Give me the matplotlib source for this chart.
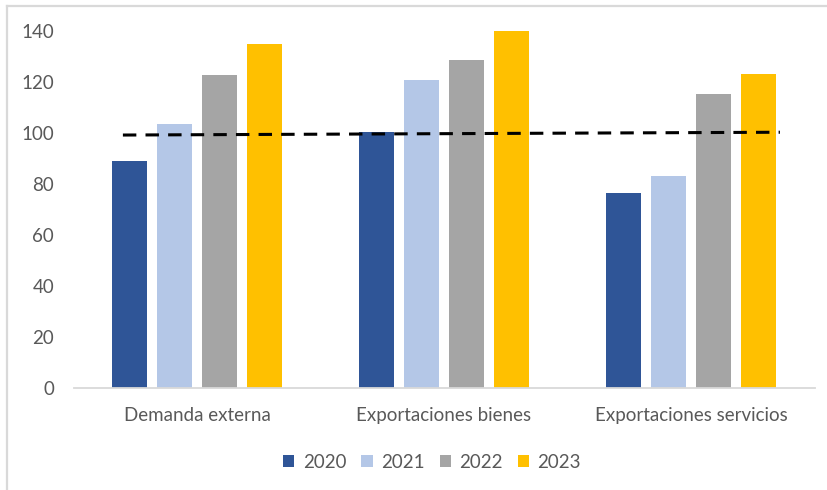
import matplotlib
matplotlib.use("Agg")
import matplotlib.pyplot as plt
import numpy as np
from matplotlib.lines import Line2D

plt.rcParams['font.family'] = ['Lato', 'DejaVu Sans']

# series
categorias = ["Demanda externa", "Exportaciones bienes", "Exportaciones servicios"]
anios = ["2020", "2021", "2022", "2023"]
valores = {
    "2020": [89.0, 100.4, 76.5],
    "2021": [103.5, 120.8, 83.1],
    "2022": [122.7, 128.6, 115.3],
    "2023": [134.9, 140.4, 123.1],
}
referencia = [99.2, 100.3]   # dashed level line, start and end
colores = ["#2F5597", "#B4C7E7", "#A5A5A5", "#FFC000"]
texto = "#595959"

W, H = 827, 490
fig = plt.figure(figsize=(W / 100, H / 100), dpi=100)
ax = fig.add_axes([73.5 / W, (H - 388) / H, 741 / W, 357 / H])

x = np.arange(len(categorias))
ancho = 0.142
paso = 0.182
for i, (anio, c) in enumerate(zip(anios, colores)):
    ax.bar(x + (i - 1.5) * paso, valores[anio], ancho, color=c, label=anio, zorder=2)

ax.plot([-0.30, 2.36], referencia, color="black", lw=2.2, ls=(0, (4.4, 3.0)),
        dash_capstyle="butt", zorder=3)

ax.set_xlim(-0.5, 2.5)
ax.set_ylim(0, 140)
ax.set_yticks(range(0, 141, 20))
ax.set_xticks(x)
ax.set_xticklabels(categorias)
ax.tick_params(axis="both", length=0, labelsize=13.5, colors=texto)
ax.tick_params(axis="y", pad=14)
ax.tick_params(axis="x", pad=14)
for s in ["top", "right", "left"]:
    ax.spines[s].set_visible(False)
ax.spines["bottom"].set_color("#D9D9D9")
ax.spines["bottom"].set_linewidth(1.3)

leg = fig.legend(loc="center", bbox_to_anchor=(432 / W, 1 - 462 / H), ncol=4,
                 frameon=False, fontsize=13.5, handlelength=0.6, handleheight=0.6,
                 handletextpad=0.45, columnspacing=0.8)
for t in leg.get_texts():
    t.set_color(texto)

# outer frame (left and top edges)
fig.add_artist(Line2D([7 / W, 7 / W], [0, 1 - 6 / H], color="#D9D9D9", lw=1.6))
fig.add_artist(Line2D([7 / W, 1], [1 - 6 / H, 1 - 6 / H], color="#D9D9D9", lw=1.6))

fig.savefig("out.png", dpi=100)
